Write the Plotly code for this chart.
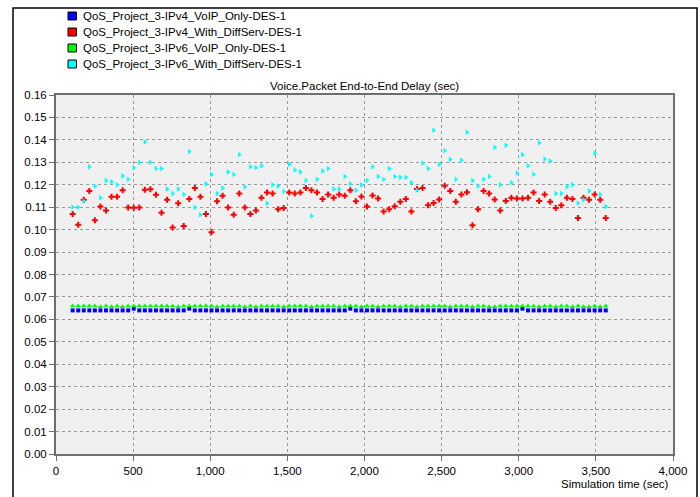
import plotly.graph_objects as go

time_sec = [108, 144, 180, 216, 252, 288, 324, 360, 396, 432, 468, 504, 540, 576, 612, 648,
            684, 720, 756, 792, 828, 864, 900, 936, 972, 1008, 1044, 1080, 1116, 1152, 1188,
            1224, 1260, 1296, 1332, 1368, 1404, 1440, 1476, 1512, 1548, 1584, 1620, 1656,
            1692, 1728, 1764, 1800, 1836, 1872, 1908, 1944, 1980, 2016, 2052, 2088, 2124,
            2160, 2196, 2232, 2268, 2304, 2340, 2376, 2412, 2448, 2484, 2520, 2556, 2592,
            2628, 2664, 2700, 2736, 2772, 2808, 2844, 2880, 2916, 2952, 2988, 3024, 3060,
            3096, 3132, 3168, 3204, 3240, 3276, 3312, 3348, 3384, 3420, 3456, 3492, 3528, 3564]

ipv4_voip = [0.0640, 0.0640, 0.0640, 0.0640, 0.0640, 0.0640, 0.0640, 0.0640, 0.0640, 0.0640,
             0.0640, 0.0648, 0.0640, 0.0640, 0.0640, 0.0640, 0.0640, 0.0640, 0.0640, 0.0640,
             0.0640, 0.0648, 0.0640, 0.0640, 0.0640, 0.0640, 0.0640, 0.0640, 0.0640, 0.0640,
             0.0640, 0.0640, 0.0640, 0.0640, 0.0640, 0.0640, 0.0640, 0.0640, 0.0640, 0.0640,
             0.0640, 0.0640, 0.0640, 0.0640, 0.0640, 0.0640, 0.0640, 0.0640, 0.0640, 0.0640,
             0.0648, 0.0640, 0.0640, 0.0640, 0.0640, 0.0640, 0.0640, 0.0640, 0.0640, 0.0640,
             0.0640, 0.0640, 0.0640, 0.0640, 0.0640, 0.0640, 0.0640, 0.0640, 0.0640, 0.0640,
             0.0640, 0.0640, 0.0640, 0.0640, 0.0640, 0.0640, 0.0640, 0.0640, 0.0640, 0.0640,
             0.0640, 0.0648, 0.0640, 0.0640, 0.0640, 0.0640, 0.0640, 0.0640, 0.0640, 0.0640,
             0.0640, 0.0640, 0.0640, 0.0640, 0.0640, 0.0640, 0.0640]

ipv4_diffserv = [0.1070, 0.1022, 0.1133, 0.1172, 0.1042, 0.1103, 0.1085, 0.1146, 0.1146, 0.1176,
                 0.1099, 0.1097, 0.1099, 0.1178, 0.1180, 0.1155, 0.1075, 0.1133, 0.1009, 0.1118,
                 0.1016, 0.1136, 0.1185, 0.1146, 0.1070, 0.0988, 0.1127, 0.1151, 0.1099, 0.1066,
                 0.1161, 0.1099, 0.1070, 0.1085, 0.1142, 0.1166, 0.1161, 0.1091, 0.1096, 0.1166,
                 0.1161, 0.1166, 0.1185, 0.1175, 0.1166, 0.1137, 0.1157, 0.1142, 0.1157, 0.1151,
                 0.1176, 0.1127, 0.1148, 0.1103, 0.1152, 0.1139, 0.1081, 0.1091, 0.1104, 0.1124,
                 0.1137, 0.1081, 0.1181, 0.1185, 0.1109, 0.1119, 0.1134, 0.1196, 0.1172, 0.1124,
                 0.1157, 0.1167, 0.1019, 0.1091, 0.1172, 0.1161, 0.1134, 0.1085, 0.1128, 0.1142,
                 0.1139, 0.1139, 0.1142, 0.1166, 0.1128, 0.1157, 0.1124, 0.1096, 0.1109, 0.1142,
                 0.1137, 0.1052, 0.1142, 0.1133, 0.1157, 0.1133, 0.1052]

ipv6_voip = [0.0660, 0.0660, 0.0660, 0.0660, 0.0660, 0.0656, 0.0660, 0.0656, 0.0660, 0.0656,
             0.0660, 0.0660, 0.0660, 0.0660, 0.0660, 0.0660, 0.0660, 0.0660, 0.0660, 0.0656,
             0.0660, 0.0660, 0.0660, 0.0660, 0.0660, 0.0660, 0.0656, 0.0660, 0.0660, 0.0660,
             0.0660, 0.0656, 0.0660, 0.0656, 0.0660, 0.0660, 0.0660, 0.0660, 0.0656, 0.0660,
             0.0660, 0.0660, 0.0660, 0.0656, 0.0660, 0.0660, 0.0660, 0.0660, 0.0656, 0.0660,
             0.0660, 0.0660, 0.0656, 0.0660, 0.0660, 0.0656, 0.0660, 0.0660, 0.0660, 0.0656,
             0.0660, 0.0660, 0.0656, 0.0660, 0.0660, 0.0660, 0.0660, 0.0660, 0.0656, 0.0660,
             0.0660, 0.0660, 0.0656, 0.0660, 0.0660, 0.0656, 0.0656, 0.0660, 0.0660, 0.0660,
             0.0660, 0.0660, 0.0660, 0.0660, 0.0656, 0.0660, 0.0660, 0.0656, 0.0660, 0.0660,
             0.0656, 0.0660, 0.0656, 0.0656, 0.0660, 0.0656, 0.0660]

ipv6_diffserv = [0.1100, 0.1100, 0.1127, 0.1280, 0.1194, 0.1142, 0.1219, 0.1213, 0.1200, 0.1239,
                 0.1224, 0.1276, 0.1300, 0.1391, 0.1300, 0.1272, 0.1272, 0.1181, 0.1161, 0.1181,
                 0.1157, 0.1348, 0.1099, 0.1066, 0.1204, 0.1246, 0.1161, 0.1185, 0.1257, 0.1246,
                 0.1334, 0.1191, 0.1280, 0.1276, 0.1285, 0.1118, 0.1200, 0.1194, 0.1170, 0.1291,
                 0.1266, 0.1257, 0.1219, 0.1061, 0.1224, 0.1261, 0.1272, 0.1181, 0.1181, 0.1237,
                 0.1204, 0.1176, 0.1200, 0.1219, 0.1280, 0.1237, 0.1224, 0.1272, 0.1237, 0.1233,
                 0.1233, 0.1209, 0.1176, 0.1296, 0.1272, 0.1443, 0.1291, 0.1352, 0.1313, 0.1224,
                 0.1309, 0.1434, 0.1219, 0.1194, 0.1224, 0.1237, 0.1367, 0.1200, 0.1376, 0.1209,
                 0.1252, 0.1334, 0.1285, 0.1246, 0.1387, 0.1315, 0.1306, 0.1161, 0.1161, 0.1191,
                 0.1200, 0.1118, 0.1133, 0.1172, 0.1340, 0.1157, 0.1103]

series_names = ["QoS_Project_3-IPv4_VoIP_Only-DES-1",
                "QoS_Project_3-IPv4_With_DiffServ-DES-1",
                "QoS_Project_3-IPv6_VoIP_Only-DES-1",
                "QoS_Project_3-IPv6_With_DiffServ-DES-1"]
series_values = [ipv4_voip, ipv4_diffserv, ipv6_voip, ipv6_diffserv]
series_colors = ["#0000ff", "#ff0000", "#00ff00", "#00ffff"]
series_symbols = ["square", "cross", "triangle-up", "triangle-right"]
series_sizes = [4, 5, 5, 5]

x_ticks = [0, 500, 1000, 1500, 2000, 2500, 3000, 3500, 4000]
x_tick_labels = ["0", "500", "1,000", "1,500", "2,000", "2,500", "3,000", "3,500", "4,000"]
y_ticks = [0.00, 0.01, 0.02, 0.03, 0.04, 0.05, 0.06, 0.07, 0.08, 0.09, 0.10, 0.11, 0.12, 0.13, 0.14, 0.15, 0.16]
y_tick_labels = ["%.2f" % v for v in y_ticks]

FONT = "Liberation Sans, Arial, sans-serif"

# plot area in pixels
PL, PR, PT, PB = 56, 673, 95, 454
W, H = 700, 497


def px_x(p):
    return (p - PL) / (PR - PL)


def px_y(p):
    return (PB - p) / (PB - PT)


fig = go.Figure()
for name, vals, col, sym, sz in zip(series_names, series_values, series_colors, series_symbols, series_sizes):
    fig.add_trace(go.Scatter(
        x=time_sec, y=vals, mode="markers", name=name, showlegend=False,
        marker=dict(color=col, symbol=sym, size=sz, line=dict(width=0)),
        cliponaxis=False,
    ))

shapes = [
    dict(type="rect", xref="paper", yref="paper",
         x0=px_x(13), x1=px_x(697), y0=px_y(520), y1=px_y(8),
         line=dict(color="#000000", width=1.5), fillcolor="rgba(0,0,0,0)", layer="below"),
]
annotations = [
    dict(text="Voice.Packet End-to-End Delay (sec)", xref="paper", yref="paper",
         x=0.5, y=1.0, xanchor="center", yanchor="bottom", yshift=1, showarrow=False,
         font=dict(family=FONT, size=11.5, color="#000000")),
    dict(text="Simulation time (sec)", xref="paper", yref="paper",
         x=px_x(671), y=0, xanchor="right", yanchor="top", yshift=-22, showarrow=False,
         font=dict(family=FONT, size=11.5, color="#000000")),
]
# manual legend (square swatches + labels)
legend_rows_y = [16, 32, 48, 64]
for name, col, ry in zip(series_names, series_colors, legend_rows_y):
    shapes.append(dict(type="rect", xref="paper", yref="paper",
                       x0=px_x(68), x1=px_x(76.5), y0=px_y(ry + 4), y1=px_y(ry - 4),
                       line=dict(color="#000000", width=1), fillcolor=col, layer="above"))
    annotations.append(dict(text=name, xref="paper", yref="paper",
                            x=px_x(81), y=px_y(ry), xanchor="left", yanchor="middle",
                            showarrow=False, font=dict(family=FONT, size=11.5, color="#000000")))

fig.update_layout(
    width=W, height=H,
    margin=dict(l=PL, r=W - PR, t=PT, b=H - PB, autoexpand=False),
    paper_bgcolor="#ffffff",
    plot_bgcolor="#f0f0f0",
    font=dict(family=FONT, size=11, color="#000000"),
    showlegend=False,
    hovermode=False,
    xaxis=dict(
        range=[0, 4000], tickvals=x_ticks, ticktext=x_tick_labels, automargin=False,
        showgrid=True, gridcolor="#9a9a9a", griddash="dot", gridwidth=1,
        showline=True, linecolor="#6e6e6e", linewidth=2, mirror=True,
        ticks="outside", ticklen=5, tickcolor="#6e6e6e", tickwidth=1,
        zeroline=False, tickfont=dict(family=FONT, size=11.5, color="#000000"),
    ),
    yaxis=dict(
        range=[0, 0.16], tickvals=y_ticks, ticktext=y_tick_labels, automargin=False,
        showgrid=True, gridcolor="#9a9a9a", griddash="dot", gridwidth=1,
        showline=True, linecolor="#6e6e6e", linewidth=2, mirror=True,
        ticks="outside", ticklen=5, tickcolor="#6e6e6e", tickwidth=1,
        zeroline=False, tickfont=dict(family=FONT, size=11.5, color="#000000"),
    ),
    annotations=annotations,
    shapes=shapes,
)

fig.write_html("out.html",
               config={"displayModeBar": False, "staticPlot": True},
               post_script="document.body.style.margin='0';document.body.style.padding='0';"
                           "document.body.style.overflow='hidden';")
